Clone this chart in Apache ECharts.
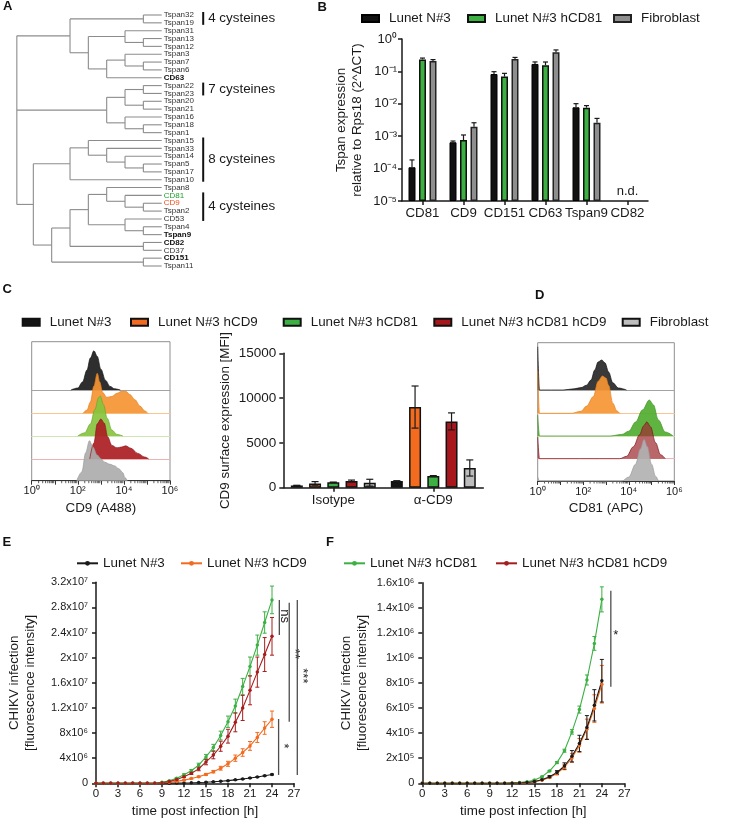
<!DOCTYPE html>
<html>
<head>
<meta charset="utf-8">
<title>Tetraspanin figure</title>
<script src="https://cdn.jsdelivr.net/npm/echarts@6.0.0/dist/echarts.min.js"></script>
<style>
  html, body { margin: 0; padding: 0; background: #fff; }
  .row { position: absolute; left: 0; width: 750px; }
</style>
</head>
<body>
<div id="rowTop" class="row" style="top:0;height:300px"></div>
<div id="rowMid" class="row" style="top:300px;height:230px"></div>
<div id="rowBot" class="row" style="top:530px;height:296px"></div>
<script>
var FONT = '"Liberation Sans", Arial, Helvetica, sans-serif';
var INK = '#1a1a1a';

// ---------- A: tetraspanin tree ----------
var leafNames = ['Tspan32', 'Tspan19', 'Tspan31', 'Tspan13', 'Tspan12', 'Tspan3', 'Tspan7', 'Tspan6', 'CD63',
  'Tspan22', 'Tspan23', 'Tspan20', 'Tspan21', 'Tspan16', 'Tspan18', 'Tspan1',
  'Tspan15', 'Tspan33', 'Tspan14', 'Tspan5', 'Tspan17', 'Tspan10',
  'Tspan8', 'CD81', 'CD9', 'Tspan2', 'CD53', 'Tspan4', 'Tspan9', 'CD82', 'CD37', 'CD151', 'Tspan11'];
var boldLeaves = ['CD63', 'Tspan9', 'CD82', 'CD151'];
var greenLeaves = ['CD81'];
var orangeLeaves = ['CD9'];
// [branch height, child, child ...]; leaves by name
var dendroTree = [7.9,
  [5, [1, 'Tspan32', 'Tspan19'],
      [4, [2, 'Tspan31', [1, 'Tspan13', 'Tspan12']],
          [3, [2, 'Tspan3', [1, 'Tspan7', 'Tspan6']], 'CD63']]],
  [3, [2, [1, 'Tspan22', 'Tspan23'], [1, 'Tspan20', 'Tspan21']],
      [2, 'Tspan16', [1, 'Tspan18', 'Tspan1']]],
  [7, [5, [4, 'Tspan15', [3, 'Tspan33', [2, 'Tspan14', [1, 'Tspan5', 'Tspan17']]]], 'Tspan10'],
      [6, [5, [4, [3, 'Tspan8', [2, 'CD81', [1, 'CD9', 'Tspan2']]],
                  [2, 'CD53', [1, 'Tspan4', 'Tspan9']]],
              [1, 'CD82', 'CD37']],
          [1, 'CD151', 'Tspan11']]]
];
var cysteineLabels = ['4 cysteines', '7 cysteines', '8 cysteines', '4 cysteines'];
var cysteineFrom = ['Tspan32', 'Tspan22', 'Tspan15', 'CD81'];
var cysteineTo = ['Tspan19', 'Tspan23', 'Tspan10', 'CD53'];

// ---------- B: qPCR ----------
var tspanGenes = ['CD81', 'CD9', 'CD151', 'CD63', 'Tspan9', 'CD82'];
var exprLunet = [1.1e-4, 6.5e-4, 0.083, 0.17, 7.8e-3, null];
var exprLunetSd = [0.75e-4, 0.6e-4, 0.015, 0.026, 2.3e-3, null];
var exprHcd81 = [0.235, 7.6e-4, 0.069, 0.155, 7.6e-3, null];
var exprHcd81Sd = [0.023, 3.3e-4, 0.018, 0.04, 1.2e-3, null];
var exprFibro = [0.21, 1.95e-3, 0.24, 0.39, 2.6e-3, null];
var exprFibroSd = [0.021, 0.65e-3, 0.03, 0.07, 0.94e-3, null];

// ---------- C / D: flow cytometry ----------
var cellLines = ['Lunet N#3', 'Lunet N#3 hCD9', 'Lunet N#3 hCD81', 'Lunet N#3 hCD81 hCD9', 'Fibroblast'];
// [intensity, % of mode]
var cd9HistLunet = [[50, 0], [100, 5], [160, 20], [250, 50], [350, 80], [500, 98], [700, 84], [1000, 52], [1600, 24], [2500, 9], [4000, 3], [7000, 0]];
var cd9HistHcd9 = [[170, 0], [250, 8], [350, 28], [500, 68], [700, 100], [900, 78], [1200, 52], [1800, 40], [3000, 42], [5000, 50], [8000, 55], [12000, 55], [18000, 47], [30000, 34], [50000, 18], [80000, 6], [110000, 0]];
var cd9HistHcd81 = [[100, 0], [200, 8], [350, 30], [550, 66], [800, 96], [950, 100], [1300, 78], [1900, 44], [3000, 15], [5000, 4], [9000, 0]];
var cd9HistHcd81Hcd9 = [[330, 0], [500, 40], [700, 88], [1000, 100], [1400, 90], [2000, 55], [3000, 34], [5000, 28], [8000, 30], [12000, 33], [20000, 27], [40000, 14], [80000, 5], [120000, 0]];
var cd9HistFibro = [[90, 0], [150, 22], [220, 70], [320, 100], [450, 84], [700, 64], [1000, 55], [1500, 46], [2500, 41], [4000, 37], [6000, 30], [9000, 20], [11000, 8], [14000, 0]];
var cd81HistLunet = [[1, 108], [1.2, 0], [13, 0], [40, 3], [80, 6], [140, 12], [220, 25], [320, 50], [450, 70], [650, 75], [900, 68], [1300, 45], [2000, 18], [3500, 5], [8000, 0]];
var cd81HistHcd9 = [[1, 107], [1.2, 0], [30, 0], [80, 5], [140, 18], [280, 42], [450, 80], [700, 93], [1000, 88], [1300, 70], [2000, 25], [3000, 6], [4000, 0]];
var cd81HistHcd81 = [[1, 52], [1.2, 0], [1500, 0], [5000, 4], [10000, 12], [20000, 35], [40000, 65], [80000, 90], [120000, 78], [200000, 40], [400000, 10], [900000, 0]];
var cd81HistHcd81Hcd9 = [[1, 55], [1.2, 0], [4000, 0], [8000, 6], [16000, 30], [30000, 60], [45000, 82], [62000, 92], [90000, 80], [150000, 40], [250000, 10], [400000, 0]];
var cd81HistFibro = [[1, 10], [1.2, 0], [5000, 0], [10000, 10], [20000, 42], [32000, 80], [47000, 104], [65000, 86], [100000, 42], [150000, 12], [200000, 0]];

var mfiGroups = ['Isotype', 'α-CD9'];
var mfiLunet = [250, 750];
var mfiLunetSd = [20, 30];
var mfiHcd9 = [480, 9000];
var mfiHcd9Sd = [200, 2350];
var mfiHcd81 = [600, 1300];
var mfiHcd81Sd = [30, 50];
var mfiHcd81Hcd9 = [750, 7400];
var mfiHcd81Hcd9Sd = [100, 950];
var mfiFibro = [560, 2200];
var mfiFibroSd = [380, 900];

// ---------- E / F: CHIKV kinetics ----------
var hoursPi = [0, 1, 2, 3, 4, 5, 6, 7, 8, 9, 10, 11, 12, 13, 14, 15, 16, 17, 18, 19, 20, 21, 22, 23, 24];
var chikvLunet = [0, 0, 0, 0, 0, 0, 0, 0, 0, 0.01e6, 0.02e6, 0.03e6, 0.05e6, 0.08e6, 0.12e6, 0.17e6, 0.24e6, 0.32e6, 0.42e6, 0.55e6, 0.68e6, 0.85e6, 1.0e6, 1.2e6, 1.4e6];
var chikvLunetSd = [0, 0, 0, 0, 0, 0, 0, 0, 0, 0, 0, 0, 0, 0, 0.01e6, 0.01e6, 0.02e6, 0.02e6, 0.03e6, 0.03e6, 0.04e6, 0.05e6, 0.06e6, 0.07e6, 0.08e6];
var chikvHcd9 = [0, 0, 0, 0, 0, 0, 0, 0, 0, 0.08e6, 0.15e6, 0.3e6, 0.5e6, 0.75e6, 1.05e6, 1.42e6, 1.85e6, 2.4e6, 3.1e6, 4.0e6, 4.9e6, 5.95e6, 7.3e6, 8.8e6, 10.2e6];
var chikvHcd9Sd = [0, 0, 0, 0, 0, 0, 0, 0, 0, 0, 0.02e6, 0.05e6, 0.07e6, 0.08e6, 0.1e6, 0.15e6, 0.2e6, 0.3e6, 0.4e6, 0.5e6, 0.6e6, 0.7e6, 0.8e6, 1.0e6, 1.3e6];
var chikvHcd81 = [0, 0, 0, 0, 0, 0, 0, 0, 0, 0.15e6, 0.4e6, 0.8e6, 1.35e6, 2.0e6, 2.9e6, 4.2e6, 5.7e6, 7.6e6, 9.8e6, 12.3e6, 15.4e6, 18.6e6, 22.0e6, 25.6e6, 29.2e6];
var chikvHcd81Sd = [0, 0, 0, 0, 0, 0, 0, 0, 0, 0, 0.05e6, 0.1e6, 0.15e6, 0.2e6, 0.3e6, 0.4e6, 0.5e6, 0.7e6, 0.9e6, 1.1e6, 1.3e6, 1.5e6, 1.6e6, 1.7e6, 2.2e6];
var chikvHcd81Hcd9 = [0, 0, 0, 0, 0, 0, 0, 0, 0, 0.1e6, 0.3e6, 0.6e6, 1.05e6, 1.6e6, 2.3e6, 3.4e6, 4.5e6, 5.9e6, 7.5e6, 9.7e6, 12.0e6, 14.8e6, 17.7e6, 20.5e6, 23.4e6];
var chikvHcd81Hcd9Sd = [0, 0, 0, 0, 0, 0, 0, 0, 0, 0, 0.05e6, 0.1e6, 0.15e6, 0.2e6, 0.3e6, 0.45e6, 0.6e6, 0.8e6, 1.1e6, 1.5e6, 2.0e6, 2.3e6, 2.4e6, 2.7e6, 3.0e6];

var chikvFLunet = [0, 0, 0, 0, 0, 0, 0, 0, 0, 0, 0, 0, 1e3, 2e3, 6e3, 14e3, 29e3, 53e3, 86e3, 138e3, 216e3, 318e3, 445e3, 622e3, 818e3];
var chikvFLunetSd = [0, 0, 0, 0, 0, 0, 0, 0, 0, 0, 0, 0, 0, 0, 1e3, 2e3, 4e3, 8e3, 15e3, 25e3, 45e3, 65e3, 95e3, 125e3, 170e3];
var chikvFHcd9 = [0, 0, 0, 0, 0, 0, 0, 0, 0, 0, 0, 0, 0.5e3, 1.5e3, 5e3, 12e3, 25e3, 47e3, 79e3, 128e3, 202e3, 302e3, 432e3, 596e3, 790e3];
var chikvFHcd9Sd = [0, 0, 0, 0, 0, 0, 0, 0, 0, 0, 0, 0, 0, 0, 1e3, 2e3, 3e3, 6e3, 12e3, 20e3, 35e3, 55e3, 80e3, 110e3, 150e3];
var chikvFHcd81 = [0, 0, 0, 0, 0, 0, 0, 0, 0, 0, 0, 0, 3e3, 6e3, 13e3, 27e3, 53e3, 98e3, 165e3, 260e3, 410e3, 588e3, 824e3, 1116e3, 1467e3];
var chikvFHcd81Sd = [0, 0, 0, 0, 0, 0, 0, 0, 0, 0, 0, 0, 0, 0, 1e3, 2e3, 3e3, 5e3, 8e3, 12e3, 18e3, 28e3, 40e3, 55e3, 100e3];

// significance: [hour, top, bottom, label position]
var sigE = [[25.0, 29.2e6, 23.6e6, 26.6e6], [26.35, 28.75e6, 9.8e6, 20.6e6], [27.45, 29.2e6, 1.33e6, 17.1e6], [24.9, 10.24e6, 1.33e6, 5.95e6]];
var sigELabels = ['ns', '**', '***', '*'];
var sigF = [[25.2, 1.536e6, 0.77e6, 1.183e6]];
var sigFLabels = ['*'];

// ---------- helpers ----------
var SUP = { '0': '⁰', '1': '¹', '2': '²', '3': '³', '4': '⁴', '5': '⁵', '6': '⁶', '7': '⁷', '8': '⁸', '9': '⁹', '-': '⁻' };
function sup(n) { return String(n).split('').map(function (c) { return SUP[c]; }).join(''); }
function pow10Label(v) { return '10' + sup(Math.round(Math.log10(v))); }
function evenPow10Label(v) { var k = Math.round(Math.log10(v)); return k % 2 === 0 ? '10' + sup(k) : ''; }
function sciLabel(v) {
  if (v === 0) return '0';
  var e = Math.floor(Math.log10(v) + 1e-9);
  var m = +(v / Math.pow(10, e)).toFixed(1);
  return m + 'x10' + sup(e);
}
function letter(t, x, y) {
  return { type: 'text', left: x, top: y, style: { text: t, fontSize: 13, fontWeight: 'bold', fontFamily: FONT, fill: '#111' } };
}
var axisLine = { show: true, lineStyle: { color: INK, width: 1.5 } };
var axisTick = { show: true, length: 4, lineStyle: { color: INK, width: 1.5 } };
function boxLegend(name, left, top) {
  return { data: [name], left: left, top: top, padding: 0, icon: 'rect', itemWidth: 17, itemHeight: 7, selectedMode: false,
    textStyle: { fontSize: 13.4, fontFamily: FONT, color: INK, padding: [0, 0, 0, 5] } };
}
function lineLegend(name, left, top) {
  return { data: [name], left: left, top: top, padding: 0, itemWidth: 21, itemHeight: 6, selectedMode: false,
    textStyle: { fontSize: 13.4, fontFamily: FONT, color: INK } };
}
function barErrorSeries(axisIdx, valueSets, errSets, pitch, capW, twoSided) {
  var data = [];
  valueSets.forEach(function (vals, s) {
    vals.forEach(function (v, c) {
      if (v == null) return;
      var e = errSets[s][c];
      data.push([c, twoSided ? v - e : v, v + e, s]);
    });
  });
  var mid = (valueSets.length - 1) / 2;
  return {
    type: 'custom', name: 'sd', xAxisIndex: axisIdx, yAxisIndex: axisIdx, z: 5, silent: true,
    encode: { x: 0, y: [1, 2] }, data: data,
    renderItem: function (params, api) {
      var off = (api.value(3) - mid) * pitch;
      var lo = api.coord([api.value(0), api.value(1)]);
      var hi = api.coord([api.value(0), api.value(2)]);
      var x = lo[0] + off;
      var st = { stroke: INK, lineWidth: 1.2 };
      var kids = [
        { type: 'line', shape: { x1: x, y1: lo[1], x2: x, y2: hi[1] }, style: st },
        { type: 'line', shape: { x1: x - capW / 2, y1: hi[1], x2: x + capW / 2, y2: hi[1] }, style: st }
      ];
      if (twoSided) kids.push({ type: 'line', shape: { x1: x - capW / 2, y1: lo[1], x2: x + capW / 2, y2: lo[1] }, style: st });
      return { type: 'group', children: kids };
    }
  };
}
function lineErrorSeries(gridIdx, xs, vals, errs, color) {
  var data = [];
  xs.forEach(function (h, i) { if (errs[i] > 0) data.push([h, vals[i] - errs[i], vals[i] + errs[i]]); });
  return {
    type: 'custom', name: 'sd', xAxisIndex: gridIdx, yAxisIndex: gridIdx, silent: true, z: 3,
    encode: { x: 0, y: [1, 2] }, data: data,
    renderItem: function (params, api) {
      var lo = api.coord([api.value(0), api.value(1)]);
      var hi = api.coord([api.value(0), api.value(2)]);
      var st = { stroke: color, lineWidth: 1 };
      return { type: 'group', children: [
        { type: 'line', shape: { x1: lo[0], y1: lo[1], x2: hi[0], y2: hi[1] }, style: st },
        { type: 'line', shape: { x1: lo[0] - 2, y1: lo[1], x2: lo[0] + 2, y2: lo[1] }, style: st },
        { type: 'line', shape: { x1: hi[0] - 2, y1: hi[1], x2: hi[0] + 2, y2: hi[1] }, style: st }
      ] };
    }
  };
}
function sigSeries(gridIdx, rows, labels, rotate) {
  return {
    type: 'custom', name: 'sig', xAxisIndex: gridIdx, yAxisIndex: gridIdx, silent: true, clip: false,
    encode: { x: 0, y: [1, 2] }, data: rows,
    renderItem: function (params, api) {
      var a = api.coord([api.value(0), api.value(1)]);
      var b = api.coord([api.value(0), api.value(2)]);
      var t = api.coord([api.value(0), api.value(3)]);
      return { type: 'group', children: [
        { type: 'line', shape: { x1: a[0], y1: a[1], x2: b[0], y2: b[1] }, style: { stroke: '#4d4d4d', lineWidth: 1.3 } },
        { type: 'text', x: t[0] + 5, y: t[1], rotation: rotate ? -Math.PI / 2 : 0,
          style: { text: labels[params.dataIndex], fill: INK, fontSize: 13, fontFamily: FONT, align: 'center', verticalAlign: 'middle' } }
      ] };
    }
  };
}
function curve(name, gridIdx, xs, vals, color) {
  return { name: name, type: 'line', xAxisIndex: gridIdx, yAxisIndex: gridIdx, z: 4,
    data: xs.map(function (h, i) { return [h, vals[i]]; }),
    symbol: 'circle', symbolSize: 3.5, lineStyle: { color: color, width: 1.1 }, itemStyle: { color: color } };
}
// minor ticks of a log axis (2..9 x 10^k), drawn under the axis line
var logMinorSteps = [2, 3, 4, 5, 6, 7, 8, 9];
function logMinorTickSeries(axisIdx, decades) {
  var ticks = [];
  decades.forEach(function (d) { logMinorSteps.forEach(function (m) { ticks.push([m * d, 0]); }); });
  return { type: 'custom', name: 'minor', xAxisIndex: axisIdx, yAxisIndex: axisIdx, silent: true, clip: false,
    encode: { x: 0 }, data: ticks,
    renderItem: function (params, api) {
      var p = api.coord([api.value(0), 0]);
      var yb = params.coordSys.y + params.coordSys.height;
      return { type: 'line', shape: { x1: p[0], y1: yb, x2: p[0], y2: yb + 2.5 }, style: { stroke: '#333', lineWidth: 0.8 } };
    } };
}

// ---------- row 1: A + B ----------
var dendroSegments = [];
function layoutNode(node) {
  if (typeof node === 'string') return { h: 0, y: leafNames.indexOf(node) };
  var h = node[0];
  var kids = node.slice(1).map(layoutNode);
  var y0 = kids[0].y, y1 = kids[kids.length - 1].y;
  dendroSegments.push([h, y0, h, y1]);
  kids.forEach(function (k) { dendroSegments.push([h, k.y, k.h, k.y]); });
  return { h: h, y: (y0 + y1) / 2 };
}
layoutNode(dendroTree);

var leafRich = {
  n: { fontSize: 8, fontFamily: FONT, color: '#333' },
  b: { fontSize: 8, fontFamily: FONT, color: '#111', fontWeight: 'bold' },
  g: { fontSize: 8, fontFamily: FONT, color: '#1f9e2a' },
  o: { fontSize: 8, fontFamily: FONT, color: '#f24e1e' }
};

var chartTop = echarts.init(document.getElementById('rowTop'));
chartTop.setOption({
  animation: false,
  textStyle: { fontFamily: FONT },
  graphic: [letter('A', 3, 0), letter('B', 317.5, 0.5), letter('C', 2.5, 283), letter('D', 535, 289)],
  legend: [boxLegend('Lunet N#3', 361, 12), boxLegend('Lunet N#3 hCD81', 467, 12), boxLegend('Fibroblast', 613, 12)],
  grid: [
    { left: 15, top: 15, width: 146.7, height: 251 },
    { left: 402, top: 39, width: 246, height: 162 }
  ],
  xAxis: [
    { gridIndex: 0, type: 'value', min: 0, max: 8, inverse: true, show: false },
    { gridIndex: 1, type: 'category', data: tspanGenes, axisLine: axisLine,
      axisTick: { show: true, alignWithLabel: true, interval: 0, length: 4, lineStyle: { color: INK, width: 1.5 } },
      axisLabel: { interval: 0, fontSize: 13.3, color: INK, margin: 6 } }
  ],
  yAxis: [
    { gridIndex: 0, type: 'value', min: 0, max: 32, interval: 1, inverse: true, position: 'right',
      axisLine: { show: false }, axisTick: { show: false }, splitLine: { show: false },
      axisLabel: { margin: 2, rich: leafRich, formatter: function (v) {
        var n = leafNames[v];
        if (n === undefined) return '';
        if (boldLeaves.indexOf(n) >= 0) return '{b|' + n + '}';
        if (greenLeaves.indexOf(n) >= 0) return '{g|' + n + '}';
        if (orangeLeaves.indexOf(n) >= 0) return '{o|' + n + '}';
        return '{n|' + n + '}';
      } } },
    { gridIndex: 1, type: 'log', min: 1e-5, max: 1, startValue: 1e-5, axisLine: axisLine, axisTick: axisTick,
      splitLine: { show: false }, axisLabel: { formatter: pow10Label, fontSize: 13, color: INK, margin: 5 },
      name: 'Tspan expression\nrelative to Rps18 (2^ΔCT)', nameLocation: 'middle', nameRotate: 90, nameGap: 37,
      nameTextStyle: { fontSize: 13.4, lineHeight: 15.5, color: INK } }
  ],
  series: [
    { type: 'custom', name: 'tree', xAxisIndex: 0, yAxisIndex: 0, silent: true, clip: false,
      encode: { x: [0, 2], y: [1, 3] }, data: dendroSegments,
      renderItem: function (params, api) {
        var a = api.coord([api.value(0), api.value(1)]);
        var b = api.coord([api.value(2), api.value(3)]);
        return { type: 'line', shape: { x1: a[0], y1: a[1], x2: b[0], y2: b[1] }, style: { stroke: '#8c8c8c', lineWidth: 1.1 } };
      } },
    { type: 'custom', name: 'cysteines', xAxisIndex: 0, yAxisIndex: 0, silent: true, clip: false,
      encode: { y: [0, 1] },
      data: cysteineFrom.map(function (f, i) { return [leafNames.indexOf(f), leafNames.indexOf(cysteineTo[i])]; }),
      renderItem: function (params, api) {
        var a = api.coord([0, api.value(0)]);
        var b = api.coord([0, api.value(1)]);
        var x = a[0] + 41.5;
        return { type: 'group', children: [
          { type: 'line', shape: { x1: x, y1: a[1] - 3, x2: x, y2: b[1] + 2 }, style: { stroke: '#111', lineWidth: 2 } },
          { type: 'text', style: { text: cysteineLabels[params.dataIndex], x: x + 5, y: (a[1] + b[1]) / 2 - 0.5,
            fill: INK, fontSize: 13.4, fontFamily: FONT, verticalAlign: 'middle' } }
        ] };
      } },
    { name: 'Lunet N#3', type: 'bar', xAxisIndex: 1, yAxisIndex: 1, data: exprLunet, barWidth: 7, barGap: '50%',
      itemStyle: { color: '#111', borderColor: '#000', borderWidth: 1 } },
    { name: 'Lunet N#3 hCD81', type: 'bar', xAxisIndex: 1, yAxisIndex: 1, data: exprHcd81, barWidth: 7, barGap: '50%',
      itemStyle: { color: '#3cb043', borderColor: '#111', borderWidth: 1.5 } },
    { name: 'Fibroblast', type: 'bar', xAxisIndex: 1, yAxisIndex: 1, data: exprFibro, barWidth: 7, barGap: '50%',
      itemStyle: { color: '#8e8e8e', borderColor: '#222', borderWidth: 1.5 } },
    barErrorSeries(1, [exprLunet, exprHcd81, exprFibro], [exprLunetSd, exprHcd81Sd, exprFibroSd], 10.5, 5, false),
    { type: 'custom', name: 'nd', xAxisIndex: 1, yAxisIndex: 1, silent: true, data: [[5, 1e-5]],
      renderItem: function (params, api) {
        var p = api.coord([api.value(0), api.value(1)]);
        return { type: 'text', style: { text: 'n.d.', x: p[0], y: p[1] - 10, align: 'center', verticalAlign: 'middle',
          fill: INK, fontSize: 13, fontFamily: FONT } };
      } }
  ]
});

// ---------- row 2: C + D ----------
var cLaneBase = [90, 113.3, 136, 159, 180.7];
var dLaneBase = [90, 113.3, 136, 158.7, 181];
var LANE_H = 40;
var cd9Hists = [cd9HistLunet, cd9HistHcd9, cd9HistHcd81, cd9HistHcd81Hcd9, cd9HistFibro];
var cd81Hists = [cd81HistLunet, cd81HistHcd9, cd81HistHcd81, cd81HistHcd81Hcd9, cd81HistFibro];
var histFillC = ['rgba(28,28,28,0.92)', 'rgba(245,148,50,0.92)', 'rgba(135,196,62,0.92)', 'rgba(172,32,36,0.93)', 'rgba(172,172,172,0.92)'];
var histEdgeC = ['#111', '#e57f1f', '#6aa82c', '#8f1a1c', '#999'];
var histFillD = ['rgba(35,35,35,0.9)', 'rgba(246,150,52,0.92)', 'rgba(78,172,44,0.9)', 'rgba(160,45,50,0.72)', 'rgba(178,178,178,0.92)'];
var histEdgeD = ['#111', '#e57f1f', '#3d8f22', '#7a1012', '#999'];
var laneLine = ['#a3a3a3', '#f8c68e', '#cfe6b2', '#efb2b2', null];
var barFill = ['#141414', '#f26b1f', '#3cb043', '#a8171c', '#bdbdbd'];
var logDecades = [1, 10, 100, 1000, 10000, 100000];

var midGrids = [], midX = [], midY = [], midSeries = [];
function addFlowPanel(left, width, frameTop, frameH, bases, hists, fills, edges, title) {
  var frameIdx = midGrids.length;
  midGrids.push({ left: left, top: frameTop, width: width, height: frameH, show: true, borderColor: '#8f8f8f', borderWidth: 1 });
  midX.push({ gridIndex: frameIdx, type: 'log', min: 1, max: 1e6, axisLine: { show: true, lineStyle: { color: '#333', width: 1 } },
    axisTick: { show: true, length: 4, lineStyle: { color: '#333', width: 1 } }, splitLine: { show: false },
    axisLabel: { formatter: evenPow10Label, fontSize: 11, color: INK, margin: 5 },
    name: title, nameLocation: 'middle', nameGap: 21, nameTextStyle: { fontSize: 13.4, color: INK } });
  midY.push({ gridIndex: frameIdx, type: 'value', min: 0, max: 1, show: false });
  midSeries.push(logMinorTickSeries(frameIdx, logDecades));
  bases.forEach(function (b, i) {
    var idx = midGrids.length;
    midGrids.push({ left: left, top: b - LANE_H, width: width, height: LANE_H });
    midX.push({ gridIndex: idx, type: 'log', min: 1, max: 1e6,
      axisLine: { show: laneLine[i] != null, lineStyle: { color: laneLine[i] || '#fff', width: 1 } },
      axisTick: { show: false }, axisLabel: { show: false }, splitLine: { show: false } });
    midY.push({ gridIndex: idx, type: 'value', min: 0, max: 100, show: false });
    midSeries.push({ name: cellLines[i], type: 'line', xAxisIndex: idx, yAxisIndex: idx, data: hists[i],
      smooth: 0.35, smoothMonotone: 'x', symbol: 'none', clip: false, silent: true, z: 2,
      lineStyle: { color: edges[i], width: 0.7 }, areaStyle: { color: fills[i], opacity: 1 } });
  });
}
// bar chart grid first so the legends take bar styling
var mfiSets = [mfiLunet, mfiHcd9, mfiHcd81, mfiHcd81Hcd9, mfiFibro];
var mfiSdSets = [mfiLunetSd, mfiHcd9Sd, mfiHcd81Sd, mfiHcd81Hcd9Sd, mfiFibroSd];
midGrids.push({ left: 283.3, top: 53.3, width: 200, height: 134.4 });
midX.push({ gridIndex: 0, type: 'category', data: mfiGroups, axisLine: axisLine,
  axisTick: { show: true, alignWithLabel: true, length: 4, lineStyle: { color: INK, width: 1.5 } },
  axisLabel: { interval: 0, fontSize: 13.4, color: INK, margin: 6 } });
midY.push({ gridIndex: 0, type: 'value', min: 0, max: 15000, interval: 5000, axisLine: axisLine, axisTick: axisTick,
  splitLine: { show: false }, axisLabel: { fontSize: 13.5, color: INK, margin: 7, formatter: function (v) { return String(v); } },
  name: 'CD9 surface expression [MFI]', nameLocation: 'middle', nameRotate: 90, nameGap: 51,
  nameTextStyle: { fontSize: 13.4, color: INK } });
cellLines.forEach(function (n, i) {
  midSeries.push({ name: n, type: 'bar', xAxisIndex: 0, yAxisIndex: 0, data: mfiSets[i], barWidth: 12, barGap: '52%',
    itemStyle: { color: barFill[i], borderColor: '#111', borderWidth: 1.5 } });
});
midSeries.push(barErrorSeries(0, mfiSets, mfiSdSets, 18.24, 7, true));
addFlowPanel(31.7, 138.3, 41.7, 139, cLaneBase, cd9Hists, histFillC, histEdgeC, 'CD9 (A488)');
addFlowPanel(537.7, 136.6, 42.7, 138.3, dLaneBase, cd81Hists, histFillD, histEdgeD, 'CD81 (APC)');

var chartMid = echarts.init(document.getElementById('rowMid'));
chartMid.setOption({
  animation: false,
  textStyle: { fontFamily: FONT },
  legend: [boxLegend(cellLines[0], 21.7, 15.8), boxLegend(cellLines[1], 130, 15.8), boxLegend(cellLines[2], 282.7, 15.8),
    boxLegend(cellLines[3], 433.3, 15.8), boxLegend(cellLines[4], 621.7, 15.8)],
  grid: midGrids, xAxis: midX, yAxis: midY, series: midSeries
});

// ---------- row 3: E + F ----------
function timeAxis(gridIdx) {
  return { gridIndex: gridIdx, type: 'value', min: 0, max: 27, interval: 3, axisLine: axisLine, axisTick: axisTick,
    splitLine: { show: false }, axisLabel: { fontSize: 11.5, color: INK, margin: 5 },
    name: 'time post infection [h]', nameLocation: 'middle', nameGap: 22, nameTextStyle: { fontSize: 13.4, color: INK } };
}
function infectionAxis(gridIdx, max, step, gap) {
  return { gridIndex: gridIdx, type: 'value', min: 0, max: max, interval: step, axisLine: axisLine, axisTick: axisTick,
    splitLine: { show: false }, axisLabel: { formatter: sciLabel, fontSize: 11, color: INK, margin: 8 },
    name: 'CHIKV infection\n[fluorescence intensity]', nameLocation: 'middle', nameRotate: 90, nameGap: gap,
    nameTextStyle: { fontSize: 13.4, lineHeight: 16, color: INK } };
}
var C_BLACK = '#1a1a1a', C_ORANGE = '#f26b1f', C_GREEN = '#3cb043', C_RED = '#a51d1d';

var chartBot = echarts.init(document.getElementById('rowBot'));
chartBot.setOption({
  animation: false,
  textStyle: { fontFamily: FONT },
  graphic: [letter('E', 2.5, 5.5), letter('F', 326, 5.5)],
  legend: [lineLegend('Lunet N#3', 76, 26.8), lineLegend('Lunet N#3 hCD9', 180, 26.8),
    lineLegend('Lunet N#3 hCD81', 343, 26.8), lineLegend('Lunet N#3 hCD81 hCD9', 495, 26.8)],
  grid: [
    { left: 96, top: 52.3, width: 198, height: 201 },
    { left: 422.3, top: 52.7, width: 202, height: 200.6 }
  ],
  xAxis: [timeAxis(0), timeAxis(1)],
  yAxis: [infectionAxis(0, 3.2e7, 4e6, 58), infectionAxis(1, 1.6e6, 2e5, 52)],
  series: [
    curve('Lunet N#3', 0, hoursPi, chikvLunet, C_BLACK),
    curve('Lunet N#3 hCD9', 0, hoursPi, chikvHcd9, C_ORANGE),
    curve('Lunet N#3 hCD81', 0, hoursPi, chikvHcd81, C_GREEN),
    curve('Lunet N#3 hCD81 hCD9', 0, hoursPi, chikvHcd81Hcd9, C_RED),
    lineErrorSeries(0, hoursPi, chikvLunet, chikvLunetSd, C_BLACK),
    lineErrorSeries(0, hoursPi, chikvHcd9, chikvHcd9Sd, C_ORANGE),
    lineErrorSeries(0, hoursPi, chikvHcd81, chikvHcd81Sd, C_GREEN),
    lineErrorSeries(0, hoursPi, chikvHcd81Hcd9, chikvHcd81Hcd9Sd, C_RED),
    sigSeries(0, sigE, sigELabels, true),
    curve('Lunet N#3 hCD81', 1, hoursPi, chikvFHcd81, C_GREEN),
    curve('Lunet N#3 hCD9', 1, hoursPi, chikvFHcd9, C_ORANGE),
    curve('Lunet N#3', 1, hoursPi, chikvFLunet, C_BLACK),
    lineErrorSeries(1, hoursPi, chikvFHcd81, chikvFHcd81Sd, C_GREEN),
    lineErrorSeries(1, hoursPi, chikvFHcd9, chikvFHcd9Sd, C_ORANGE),
    lineErrorSeries(1, hoursPi, chikvFLunet, chikvFLunetSd, C_BLACK),
    sigSeries(1, sigF, sigFLabels, false)
  ]
});
</script>
</body>
</html>
